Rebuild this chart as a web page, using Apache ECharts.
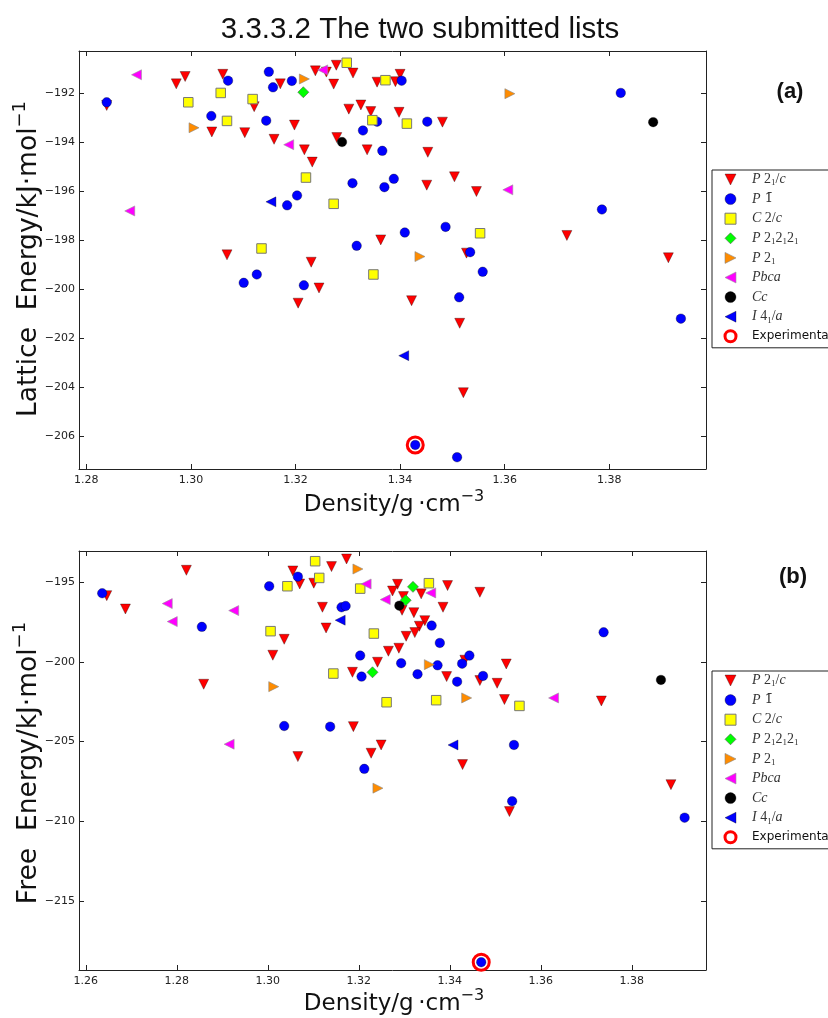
<!DOCTYPE html>
<html><head><meta charset="utf-8">
<script src="https://cdn.jsdelivr.net/npm/echarts@6/dist/echarts.min.js"></script>
<style>html,body{margin:0;padding:0;background:#fff}#c{width:828px;height:1018px}</style>
</head><body><div id="c"></div><script>
// ---------- data ----------
const categories = ['P21/c','P-1','C2/c','P212121','P21','Pbca','Cc','I41/a','Experimental'];
const xTicksA = [1.28,1.30,1.32,1.34,1.36,1.38];
const yTicksA = [-206,-204,-202,-200,-198,-196,-194,-192];
const xTicksB = [1.26,1.28,1.30,1.32,1.34,1.36,1.38];
const yTicksB = [-215,-210,-205,-200,-195];

// (a) lattice energy vs density
const latticeP21c = [[1.2839,-192.50],[1.2972,-191.62],[1.2989,-191.32],[1.3040,-193.58],[1.3061,-191.23],[1.3103,-193.61],[1.3121,-192.55],[1.3171,-191.62],[1.3159,-193.88],[1.3198,-193.30],[1.3217,-194.31],[1.3232,-194.81],[1.3238,-191.09],[1.3259,-191.14],[1.3278,-190.86],[1.3273,-191.63],[1.3310,-191.18],[1.3302,-192.65],[1.3325,-192.48],[1.3344,-192.75],[1.3279,-193.81],[1.3337,-194.31],[1.3363,-197.98],[1.3069,-198.59],[1.3230,-198.89],[1.3356,-191.55],[1.3400,-191.23],[1.3391,-191.53],[1.3398,-192.78],[1.3481,-193.18],[1.3453,-194.41],[1.3451,-195.75],[1.3504,-195.41],[1.3546,-196.01],[1.3719,-197.80],[1.3527,-198.52],[1.3913,-198.71],[1.3245,-199.94],[1.3205,-200.56],[1.3422,-200.46],[1.3514,-201.38],[1.3521,-204.21]];
const latticeP1bar = [[1.2839,-192.37],[1.3039,-192.93],[1.3071,-191.49],[1.3149,-191.13],[1.3144,-193.12],[1.3157,-191.76],[1.3193,-191.50],[1.3356,-193.16],[1.3329,-193.52],[1.3366,-194.35],[1.3309,-195.67],[1.3370,-195.83],[1.3203,-196.17],[1.3184,-196.57],[1.3317,-198.22],[1.3403,-191.49],[1.3822,-191.99],[1.3452,-193.16],[1.3388,-195.49],[1.3786,-196.74],[1.3409,-197.68],[1.3487,-197.45],[1.3534,-198.48],[1.3101,-199.73],[1.3126,-199.39],[1.3216,-199.83],[1.3558,-199.28],[1.3513,-200.32],[1.3937,-201.19],[1.3429,-206.34],[1.3509,-206.84]];
const latticeC2c = [[1.2995,-192.37],[1.3057,-191.99],[1.3069,-193.13],[1.3118,-192.24],[1.3220,-195.44],[1.3298,-190.76],[1.3347,-193.10],[1.3273,-196.51],[1.3135,-198.33],[1.3372,-191.47],[1.3413,-193.24],[1.3553,-197.71],[1.3349,-199.39]];
const latticeP212121 = [[1.3215,-191.96]];
const latticeP21 = [[1.3006,-193.41],[1.3217,-191.42],[1.3610,-192.02],[1.3438,-198.66]];
const latticePbca = [[1.2896,-191.25],[1.3187,-194.10],[1.3252,-191.05],[1.2883,-196.80],[1.3606,-195.94]];
const latticeCc = [[1.3289,-193.99],[1.3884,-193.18]];
const latticeI41a = [[1.3153,-196.43],[1.3407,-202.70]];
const latticeExp = [[1.3429,-206.34]];

// (b) free energy vs density
const freeP21c = [[1.2646,-195.84],[1.2687,-196.68],[1.2821,-194.25],[1.2859,-201.40],[1.3055,-194.29],[1.3070,-195.11],[1.3101,-195.06],[1.3140,-194.02],[1.3173,-193.54],[1.3036,-198.58],[1.3011,-199.58],[1.3120,-196.57],[1.3128,-197.87],[1.3241,-200.02],[1.3265,-199.33],[1.3186,-200.65],[1.3188,-204.06],[1.3249,-205.21],[1.3066,-205.94],[1.3227,-205.73],[1.3285,-195.13],[1.3274,-195.55],[1.3395,-195.21],[1.3337,-195.73],[1.3298,-195.90],[1.3295,-196.76],[1.3321,-196.91],[1.3385,-196.57],[1.3466,-195.63],[1.3345,-197.41],[1.3333,-197.76],[1.3323,-198.16],[1.3304,-198.39],[1.3288,-199.14],[1.3433,-199.89],[1.3524,-200.13],[1.3393,-200.92],[1.3466,-201.17],[1.3504,-201.34],[1.3520,-202.36],[1.3733,-202.45],[1.3428,-206.44],[1.3531,-209.39],[1.3886,-207.70]];
const freeP1bar = [[1.2636,-195.69],[1.2855,-197.80],[1.3003,-195.25],[1.3066,-194.65],[1.3162,-196.57],[1.3171,-196.49],[1.3203,-199.60],[1.3206,-200.92],[1.3036,-204.02],[1.3137,-204.06],[1.3212,-206.71],[1.3360,-197.72],[1.3378,-198.81],[1.3293,-200.08],[1.3373,-200.21],[1.3443,-199.60],[1.3427,-200.11],[1.3329,-200.77],[1.3416,-201.24],[1.3473,-200.88],[1.3738,-198.14],[1.3541,-205.21],[1.3537,-208.74],[1.3916,-209.77],[1.3469,-218.84]];
const freeC2c = [[1.3043,-195.25],[1.3104,-193.68],[1.3113,-194.73],[1.3203,-195.40],[1.3006,-198.07],[1.3233,-198.22],[1.3144,-200.73],[1.3261,-202.53],[1.3354,-195.06],[1.3370,-202.40],[1.3553,-202.76]];
const freeP212121 = [[1.3230,-200.65],[1.3319,-195.29],[1.3303,-196.13]];
const freeP21 = [[1.3198,-194.17],[1.3013,-201.55],[1.3242,-207.92],[1.3355,-200.17],[1.3437,-202.26]];
const freePbca = [[1.2779,-196.34],[1.2790,-197.47],[1.2925,-196.78],[1.3216,-195.11],[1.3258,-196.09],[1.2915,-205.16],[1.3358,-195.67],[1.3628,-202.26]];
const freeCc = [[1.3289,-196.47],[1.3864,-201.13]];
const freeI41a = [[1.3159,-197.38],[1.3407,-205.21]];
const freeExp = [[1.3469,-218.84]];

// ---------- styling ----------
const edge = 'rgba(0,0,0,0.55)';
const TRI_DOWN = 'path://M0,0L10,0L5,10Z';
const TRI_RIGHT = 'path://M0,0L10,5L0,10Z';
const TRI_LEFT = 'path://M10,0L0,5L10,10Z';
const DIAMOND = 'path://M5,0L10,5L5,10L0,5Z';
const styles = {
  'P21/c':   {symbol:TRI_DOWN,  size:10,  color:'#ff0000', border:edge, bw:0.6},
  'P-1':     {symbol:'circle',  size:9.5, color:'#0000ff', border:edge, bw:0.6},
  'C2/c':    {symbol:'rect',    size:9.5, color:'#ffff00', border:'#777', bw:1},
  'P212121': {symbol:DIAMOND,   size:11,  color:'#00ff00', border:'#555', bw:0.6},
  'P21':     {symbol:TRI_RIGHT, size:10,  color:'#ff8c00', border:'#888', bw:0.6},
  'Pbca':    {symbol:TRI_LEFT,  size:10,  color:'#ff00ff', border:'#999', bw:0.6},
  'Cc':      {symbol:'circle',  size:9.5, color:'#000000', border:edge, bw:0.6},
  'I41/a':   {symbol:TRI_LEFT,  size:10,  color:'#0000ff', border:edge, bw:0.6},
  'Experimental': {symbol:'circle', size:16, color:'rgba(0,0,0,0)', border:'#ff0000', bw:3}
};
const dataA = [latticeP21c, latticeP1bar, latticeC2c, latticeP212121, latticeP21, latticePbca, latticeCc, latticeI41a, latticeExp];
const dataB = [freeP21c, freeP1bar, freeC2c, freeP212121, freeP21, freePbca, freeCc, freeI41a, freeExp];

function mkSeries(axisIdx, datasets) {
  return categories.map((name, i) => {
    const s = styles[name];
    return {
      type: 'scatter', name, xAxisIndex: axisIdx, yAxisIndex: axisIdx,
      data: datasets[i], symbol: s.symbol, symbolSize: s.size, symbolKeepAspect: true,
      itemStyle: {color: s.color, borderColor: s.border, borderWidth: s.bw, opacity: 1},
      emphasis: {disabled: true}, animation: false, z: 2 + i
    };
  });
}

const tickFont = {fontFamily: 'DejaVu Sans', fontSize: 11, color: '#222'};
const minus = v => (v < 0 ? '\u2212' + Math.abs(v) : String(v));
function xAx(gridIndex, min, max, ticks, main) {
  return {
    type: 'value', gridIndex, min, max, position: main ? 'bottom' : 'top',
    axisLine: {show: true, onZero: false, lineStyle: {color: '#222', width: 1}},
    axisTick: {show: true, inside: true, length: 5, customValues: ticks, lineStyle: {color: '#222'}},
    axisLabel: {show: main, customValues: ticks, margin: 6, formatter: v => v.toFixed(2), ...tickFont},
    splitLine: {show: false}
  };
}
function yAx(gridIndex, min, max, ticks, main) {
  return {
    type: 'value', gridIndex, min, max, position: main ? 'left' : 'right',
    axisLine: {show: true, onZero: false, lineStyle: {color: '#222', width: 1}},
    axisTick: {show: true, inside: true, length: 5, customValues: ticks, lineStyle: {color: '#222'}},
    axisLabel: {show: main, customValues: ticks, margin: 4, formatter: minus, ...tickFont},
    splitLine: {show: false}
  };
}

const LH = 19;
const legendRich = {
  g: {width: 11, lineHeight: LH},
  i: {fontFamily: 'Liberation Serif', fontStyle: 'italic', fontSize: 14, color: '#333', lineHeight: LH},
  n: {fontFamily: 'Liberation Serif', fontSize: 14, color: '#333', lineHeight: LH},
  o: {fontFamily: 'DejaVu Serif', fontSize: 13, color: '#333', lineHeight: LH},
  s: {fontFamily: 'Liberation Serif', fontSize: 9, color: '#333', lineHeight: 12, padding: [7, 0, 0, 0]},
  e: {fontFamily: 'DejaVu Sans', fontSize: 12, color: '#111', lineHeight: LH}
};
const legendLabel = {
  'P21/c': '{g| }{i|P}{n| 2}{s|1}{n|/}{i|c}',
  'P-1': '{g| }{i|P}{o| 1\u0304}',
  'C2/c': '{g| }{i|C}{n| 2/}{i|c}',
  'P212121': '{g| }{i|P}{n| 2}{s|1}{n|2}{s|1}{n|2}{s|1}',
  'P21': '{g| }{i|P}{n| 2}{s|1}',
  'Pbca': '{g| }{i|Pbca}',
  'Cc': '{g| }{i|Cc}',
  'I41/a': '{g| }{i|I}{n| 4}{s|1}{n|/}{i|a}',
  'Experimental': '{g| }{e|Experimental}'
};
function mkLegend(top) {
  return {
    data: categories.map(name => ({
      name, icon: styles[name].symbol,
      itemStyle: {color: styles[name].color, borderColor: styles[name].border, borderWidth: styles[name].bw}
    })),
    orient: 'vertical', left: 712, top,
    itemWidth: 11, itemHeight: 11, itemGap: 0.6,
    padding: [0, 10, 2, 11.5], borderColor: '#222', borderWidth: 1,
    backgroundColor: '#fff', selectedMode: false,
    formatter: n => legendLabel[n],
    textStyle: {rich: legendRich, lineHeight: LH}
  };
}

const axisLabelFont = 'DejaVu Sans';
const labRich = {a: {fontFamily: axisLabelFont, fontSize: 23, fill: '#111'}, s: {fontFamily: axisLabelFont, fontSize: 16, fill: '#111', padding: [0, 0, 16, 0]}};
const yRich = {a: {fontFamily: axisLabelFont, fontSize: 26.5, fill: '#111'}, s: {fontFamily: axisLabelFont, fontSize: 18, fill: '#111', padding: [0, 0, 18, 0]}};
const option = {
  backgroundColor: '#fff',
  animation: false,
  grid: [
    {left: 79, top: 51, width: 627, height: 418},
    {left: 79, top: 551, width: 627, height: 419}
  ],
  xAxis: [
    xAx(0, 1.2786, 1.3985, xTicksA, true), xAx(0, 1.2786, 1.3985, xTicksA, false),
    xAx(1, 1.2585, 1.3963, xTicksB, true), xAx(1, 1.2585, 1.3963, xTicksB, false)
  ],
  yAxis: [
    yAx(0, -207.32, -190.28, yTicksA, true), yAx(0, -207.32, -190.28, yTicksA, false),
    yAx(1, -219.33, -193.04, yTicksB, true), yAx(1, -219.33, -193.04, yTicksB, false)
  ],
  legend: [mkLegend(170), mkLegend(671)],
  series: [...mkSeries(0, dataA), ...mkSeries(2, dataB)],
  graphic: [
    {type: 'text', x: 420, y: 30, style: {text: '3.3.3.2 The two submitted lists', font: '29.5px "Liberation Sans", Arial, sans-serif', fill: '#111', textAlign: 'center', textVerticalAlign: 'middle'}},
    {type: 'text', x: 790, y: 92, style: {text: '(a)', font: 'bold 22px "Liberation Sans", Arial, sans-serif', fill: '#111', textAlign: 'center', textVerticalAlign: 'middle'}},
    {type: 'text', x: 793, y: 577, style: {text: '(b)', font: 'bold 22px "Liberation Sans", Arial, sans-serif', fill: '#111', textAlign: 'center', textVerticalAlign: 'middle'}},
    {type: 'text', x: 394, y: 505, style: {text: '{a|Density/g\u2009\u00b7cm}{s|\u22123}', textAlign: 'center', textVerticalAlign: 'middle', rich: labRich}},
    {type: 'text', x: 394, y: 1004, style: {text: '{a|Density/g\u2009\u00b7cm}{s|\u22123}', textAlign: 'center', textVerticalAlign: 'middle', rich: labRich}},
    {type: 'text', x: 29, y: 259, rotation: Math.PI / 2, style: {text: '{a|Lattice  Energy/kJ\u00b7mol}{s|\u22121}', textAlign: 'center', textVerticalAlign: 'middle', rich: yRich}},
    {type: 'text', x: 29, y: 763, rotation: Math.PI / 2, style: {text: '{a|Free  Energy/kJ\u00b7mol}{s|\u22121}', textAlign: 'center', textVerticalAlign: 'middle', rich: yRich}}
  ]
};
const chart = echarts.init(document.getElementById('c'), null, {renderer: 'canvas'});
chart.setOption(option);
</script></body></html>
